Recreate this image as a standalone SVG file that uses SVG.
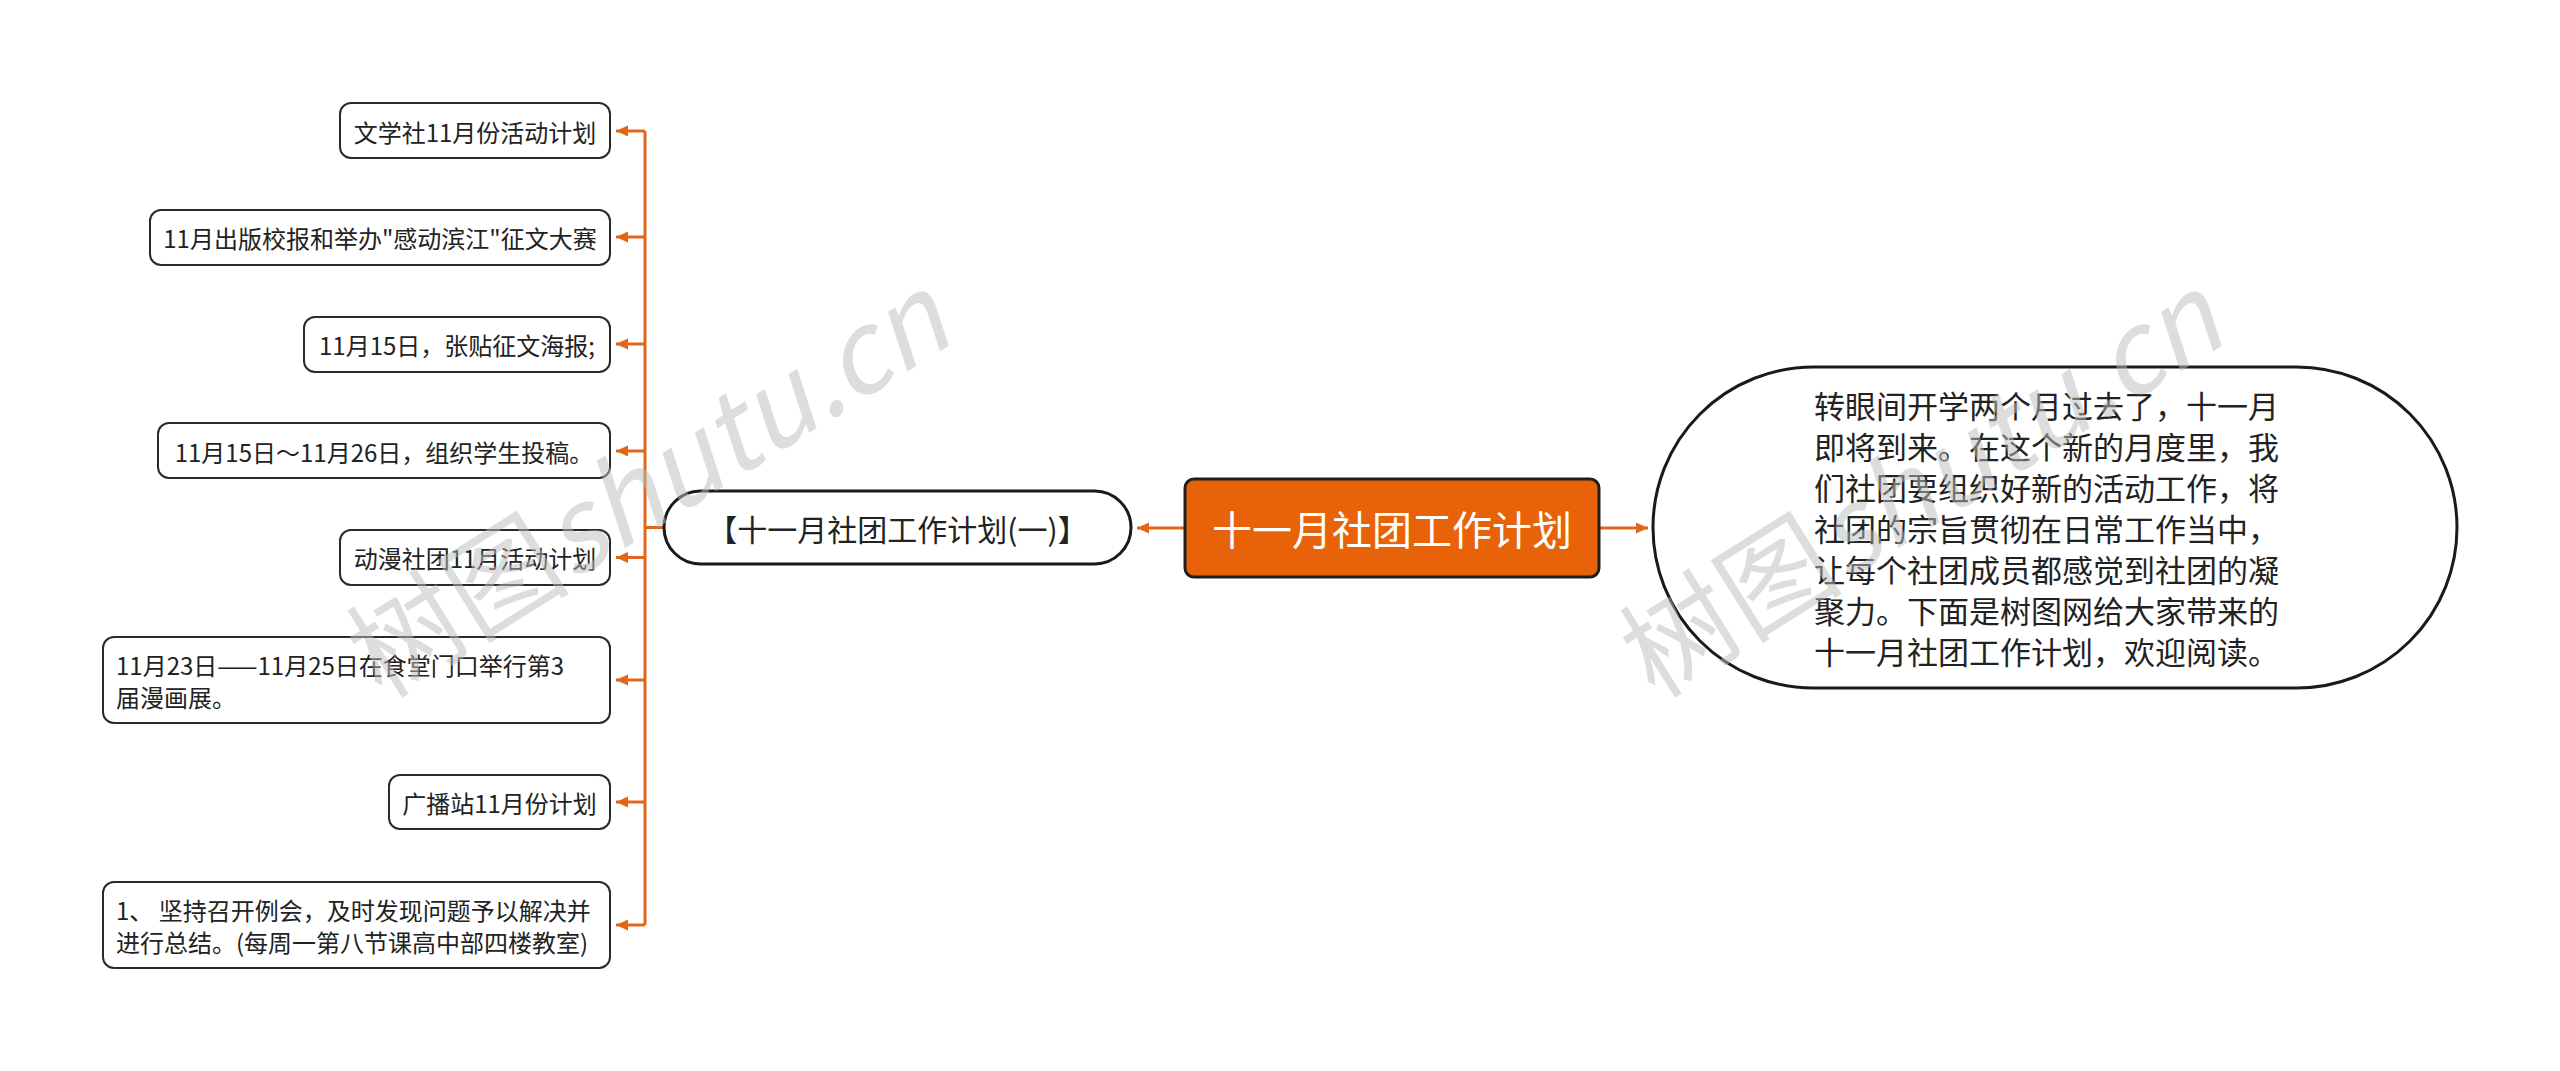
<svg xmlns="http://www.w3.org/2000/svg" width="2560" height="1071" viewBox="0 0 2560 1071">
<defs>
<marker id="arr" markerUnits="userSpaceOnUse" markerWidth="14" markerHeight="12" refX="12" refY="5.5" orient="auto">
<path d="M0,0 L12,5.5 L0,11 Z" fill="#E2651A"/>
</marker>
<style>
.conn{fill:none;stroke:#E2651A;stroke-width:3}
.child rect{fill:#fff;stroke:#2a2a2a;stroke-width:2}
.t{font-family:"Noto Sans CJK SC","Noto Sans",sans-serif;fill:#222}
.c24{font-size:24px}
.wm{font-family:"Noto Sans CJK SC","Liberation Serif",serif;font-size:112px;fill:#bdbdbd;opacity:0.5}
</style>
</defs>
<rect width="2560" height="1071" fill="#fff"/>
<g id="connectors">
<path class="conn" d="M645,131 V925"/>
<path class="conn" d="M664,527.5 H645"/>
<path class="conn" d="M645,131 H616" marker-end="url(#arr)"/>
<path class="conn" d="M645,237 H616" marker-end="url(#arr)"/>
<path class="conn" d="M645,344 H616" marker-end="url(#arr)"/>
<path class="conn" d="M645,451 H616" marker-end="url(#arr)"/>
<path class="conn" d="M645,557.5 H616" marker-end="url(#arr)"/>
<path class="conn" d="M645,680 H616" marker-end="url(#arr)"/>
<path class="conn" d="M645,802 H616" marker-end="url(#arr)"/>
<path class="conn" d="M645,925 H616" marker-end="url(#arr)"/>
<path class="conn" d="M1185,528 H1137" marker-end="url(#arr)"/>
<path class="conn" d="M1599,528 H1648" marker-end="url(#arr)"/>
</g>
<g id="n1" class="child"><rect x="340" y="103" width="270" height="55" rx="11"/><text class="t c24" x="475" y="131" text-anchor="middle" dominant-baseline="central">文学社11月份活动计划</text></g>
<g id="n2" class="child"><rect x="150" y="210" width="460" height="55" rx="11"/><text class="t c24" x="380" y="237" text-anchor="middle" dominant-baseline="central">11月出版校报和举办"感动滨江"征文大赛</text></g>
<g id="n3" class="child"><rect x="304" y="317" width="306" height="55" rx="11"/><text class="t c24" x="457" y="344" text-anchor="middle" dominant-baseline="central">11月15日，张贴征文海报;</text></g>
<g id="n4" class="child"><rect x="158" y="423" width="452" height="55" rx="11"/><text class="t c24" x="384" y="451" text-anchor="middle" dominant-baseline="central">11月15日～11月26日，组织学生投稿。</text></g>
<g id="n5" class="child"><rect x="340" y="530" width="270" height="55" rx="11"/><text class="t c24" x="475" y="557.5" text-anchor="middle" dominant-baseline="central">动漫社团11月活动计划</text></g>
<g id="n6" class="child"><rect x="103" y="637" width="507" height="86" rx="11"/><text class="t c24" x="116" y="664" dominant-baseline="central">11月23日——11月25日在食堂门口举行第3</text><text class="t c24" x="116" y="696" dominant-baseline="central">届漫画展。</text></g>
<g id="n7" class="child"><rect x="389" y="775" width="221" height="54" rx="11"/><text class="t c24" x="499.5" y="802" text-anchor="middle" dominant-baseline="central">广播站11月份计划</text></g>
<g id="n8" class="child"><rect x="103" y="882" width="507" height="86" rx="11"/><text class="t c24" x="116" y="909" dominant-baseline="central">1、 坚持召开例会，及时发现问题予以解决并</text><text class="t c24" x="116" y="941" dominant-baseline="central">进行总结。(每周一第八节课高中部四楼教室)</text></g>
<g id="sub"><rect x="664" y="491" width="467" height="73" rx="36.5" fill="#fff" stroke="#1a1a1a" stroke-width="3"/><text class="t" x="897.5" y="528" font-size="30" text-anchor="middle" dominant-baseline="central">【十一月社团工作计划(一)】</text></g>
<g id="root"><rect x="1185" y="479" width="414" height="98" rx="9" fill="#E8620A" stroke="#1f1f1f" stroke-width="3"/><text class="t" x="1392" y="528" font-size="40" text-anchor="middle" dominant-baseline="central" style="fill:#fff">十一月社团工作计划</text></g>
<g id="intro"><rect x="1653" y="367" width="804" height="321" rx="160.5" fill="#fff" stroke="#1a1a1a" stroke-width="3"/>
<g class="t" font-size="31">
<text x="1814" y="404" dominant-baseline="central">转眼间开学两个月过去了，十一月</text>
<text x="1814" y="445" dominant-baseline="central">即将到来。在这个新的月度里，我</text>
<text x="1814" y="486" dominant-baseline="central">们社团要组织好新的活动工作，将</text>
<text x="1814" y="527" dominant-baseline="central">社团的宗旨贯彻在日常工作当中，</text>
<text x="1814" y="568" dominant-baseline="central">让每个社团成员都感觉到社团的凝</text>
<text x="1814" y="609" dominant-baseline="central">聚力。下面是树图网给大家带来的</text>
<text x="1814" y="650" dominant-baseline="central">十一月社团工作计划，欢迎阅读。</text>
</g></g>
<g id="watermark">
<text class="wm" transform="translate(382,700) rotate(-32)">树图<tspan font-style="italic">shutu.cn</tspan></text>
<text class="wm" transform="translate(1655,700) rotate(-32)">树图<tspan font-style="italic">shutu.cn</tspan></text>
</g>
</svg>
